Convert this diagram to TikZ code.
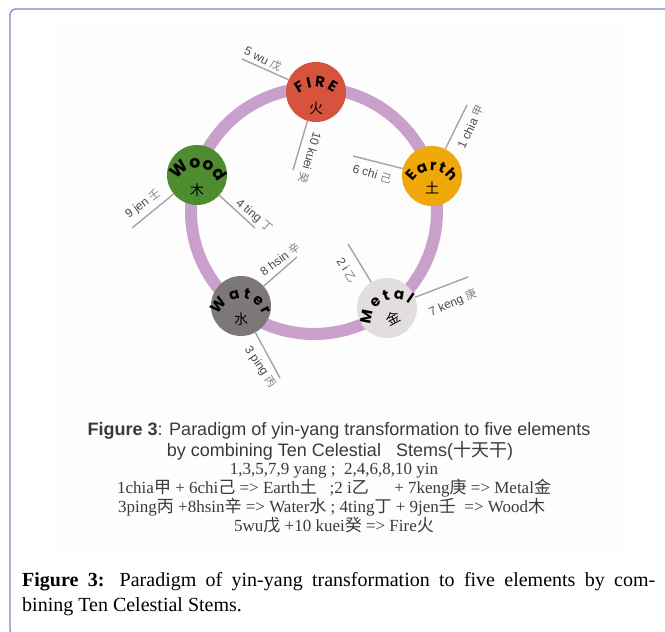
\documentclass[tikz,border=0pt]{standalone}
\usepackage{fontspec}
\setmainfont{Liberation Serif}
\setsansfont{Liberation Sans}
\newfontfamily\cjk{Noto Sans CJK SC}
\newfontfamily\elemfont{Poppins}
\usetikzlibrary{decorations.text,calc}
\definecolor{framecol}{HTML}{8C83C0}
\definecolor{ringcol}{HTML}{C99FCC}
\definecolor{firecol}{HTML}{D6533E}
\definecolor{earthcol}{HTML}{EFA70A}
\definecolor{woodcol}{HTML}{4E8C2F}
\definecolor{watercol}{HTML}{7D7878}
\definecolor{metalcol}{HTML}{E3DEDE}
\definecolor{spokecol}{HTML}{A8A2A2}
\definecolor{lblcol}{HTML}{4A4A4A}
\definecolor{txtdark}{HTML}{3A3A3A}
\definecolor{innerbg}{HTML}{FDFDFD}
\tikzset{
  elem/.style={circle, minimum size=60pt, inner sep=0pt, draw=none},
  spoke/.style={draw=spokecol, line width=1.4pt},
  spokelbl/.style={font=\sffamily\fontsize{12}{12}\selectfont, text=lblcol, inner sep=0pt},
  zhlbl/.style={font=\cjk\fontsize{14}{14}\selectfont, text=black, inner sep=0pt},
  sanscap/.style={font=\sffamily\fontsize{18}{18}\selectfont, text=txtdark, inner sep=0pt, anchor=base},
  serifcap/.style={font=\fontsize{17}{17}\selectfont, text=txtdark, inner sep=0pt},
  figcap/.style={font=\fontsize{20}{20}\selectfont, text=black, inner sep=0pt, anchor=base west}
}
\newcommand\zh[1]{{\cjk #1}}
\newcommand\szh[1]{{\cjk\color{gray}\fontsize{11}{11}\selectfont #1}}
% #1 node, #2 rotation, #3 text, #4 font size, #5 half span, #6 centre offset, #7 baseline radius
\newcommand\elemlabel[7]{%
  \path[decorate, decoration={text along path, text align={fit to path},
     text={|\elemfont\bfseries\fontsize{#4}{#4}\selectfont|#3}}]
    ($(#1)+(#2-90:#6)+(#2+90+#5:#7)$) arc[start angle=#2+90+#5, end angle=#2+90-#5, radius=#7];
}
\begin{document}
\begin{tikzpicture}[x=1pt,y=1pt]
\useasboundingbox (0,0) rectangle (665,632);
\begin{scope}
\clip (0,0) rectangle (665,632);
\draw[framecol, line width=1.3pt, rounded corners=6pt] (10,-4) rectangle (700,623);
\end{scope}
\fill[innerbg] (57,80) rectangle (622,607);

% ring
\node[circle, draw=ringcol, line width=12pt, minimum size=246pt, inner sep=0pt] (ring) at (314,421) {};

% element nodes
\node[elem, fill=firecol]  (fire)  at (316,540) {};
\node[elem, fill=earthcol] (earth) at (432,456) {};
\node[elem, fill=woodcol]  (wood)  at (197,457) {};
\node[elem, fill=watercol] (water) at (241,326) {};
\node[elem, fill=metalcol] (metal) at (387,324) {};

% spoke end points
\coordinate (c5)  at (242,573);
\coordinate (c10) at (293,462);
\coordinate (c1)  at (467,527);
\coordinate (c6)  at (353,476);
\coordinate (c9)  at (132,404);
\coordinate (c4)  at (255,404);
\coordinate (c8)  at (297,375);
\coordinate (c3)  at (280,254);
\coordinate (c2)  at (348,388);
\coordinate (c7)  at (468,355);

\draw[spoke] (fire) -- (c5);
\draw[spoke] (fire) -- (c10);
\draw[spoke] (earth) -- (c1);
\draw[spoke] (earth) -- (c6);
\draw[spoke] (wood) -- (c9);
\draw[spoke] (wood) -- (c4);
\draw[spoke] (water) -- (c8);
\draw[spoke] (water) -- (c3);
\draw[spoke] (metal) -- (c2);
\draw[spoke] (metal) -- (c7);

% spoke labels
\node[spokelbl, rotate=-26]  (t5)  at (263,573) {5 wu \szh{戊}};
\node[spokelbl, rotate=-106] (t10) at (310,474) {10 kuei \szh{癸}};
\node[spokelbl, rotate=65]   (t1)  at (471,505) {1 chia \szh{甲}};
\node[spokelbl, rotate=-17]  (t6)  at (372,458) {6 chi \szh{己}};
\node[spokelbl, rotate=37]   (t9)  at (143,428) {9 jen \szh{壬}};
\node[spokelbl, rotate=-40]  (t4)  at (254,416) {4 ting \szh{丁}};
\node[spokelbl, rotate=37]   (t8)  at (280,373) {8 hsin \szh{辛}};
\node[spokelbl, rotate=-56]  (t3)  at (260,265) {3 ping \szh{丙}};
\node[spokelbl, rotate=-56]  (t2)  at (347,362) {2 i \szh{乙}};
\node[spokelbl, rotate=24]   (t7)  at (453,329) {7 keng \szh{庚}};

% curved element names
\elemlabel{fire}{0}{FIRE}{15}{40}{22}{27}
\elemlabel{earth}{0}{Earth}{15}{58}{18}{23}
\elemlabel{wood}{0}{Wood}{17}{68}{14}{21}
\elemlabel{water}{0}{Water}{15}{70}{17}{24}
\elemlabel{metal}{28}{Metal}{15}{68}{16}{23}

\node[zhlbl] (zfire)  at ($(fire)+(0,-16)$) {火};
\node[zhlbl] (zearth) at ($(earth)+(0,-12)$) {土};
\node[zhlbl] (zwood)  at ($(wood)+(0,-15)$) {木};
\node[zhlbl] (zwater) at ($(water)+(0,-13)$) {水};
\node[zhlbl, rotate=28] (zmetal) at ($(metal)+(-62:12)$) {金};

% text block
\node[sanscap] (cap1) at (339,196) {\textbf{Figure 3}: Paradigm of yin-yang transformation to five elements};
\node[sanscap] (cap2) at (340,175) {by combining Ten Celestial\ \ \ Stems(\zh{十天干})};
\node[serifcap, anchor=base] (cap3) at (334,157) {1,3,5,7,9 yang\ ;\ \ 2,4,6,8,10 yin};
\node[serifcap, anchor=base west] (cap4) at (117,138) {1chia\zh{甲} + 6chi\zh{己} => Earth\zh{土}\ \ \ ;2 i\zh{乙}\quad\ \ + 7keng\zh{庚} => Metal\zh{金}};
\node[serifcap, anchor=base west] (cap5) at (118,119) {3ping\zh{丙} +8hsin\zh{辛} => Water\zh{水}\ ; 4ting\zh{丁} + 9jen\zh{壬}\ \ => Wood\zh{木}};
\node[serifcap, anchor=base] (cap6) at (334,100) {5wu\zh{戊} +10 kuei\zh{癸} => Fire\zh{火}};

% caption
\node[figcap] (fc1) at (22,45) {\makebox[633pt][s]{\textbf{Figure 3:} Paradigm of yin-yang transformation to five elements by com-}};
\node[figcap] (fc2) at (22,20) {bining Ten Celestial Stems.};
\end{tikzpicture}
\end{document}
